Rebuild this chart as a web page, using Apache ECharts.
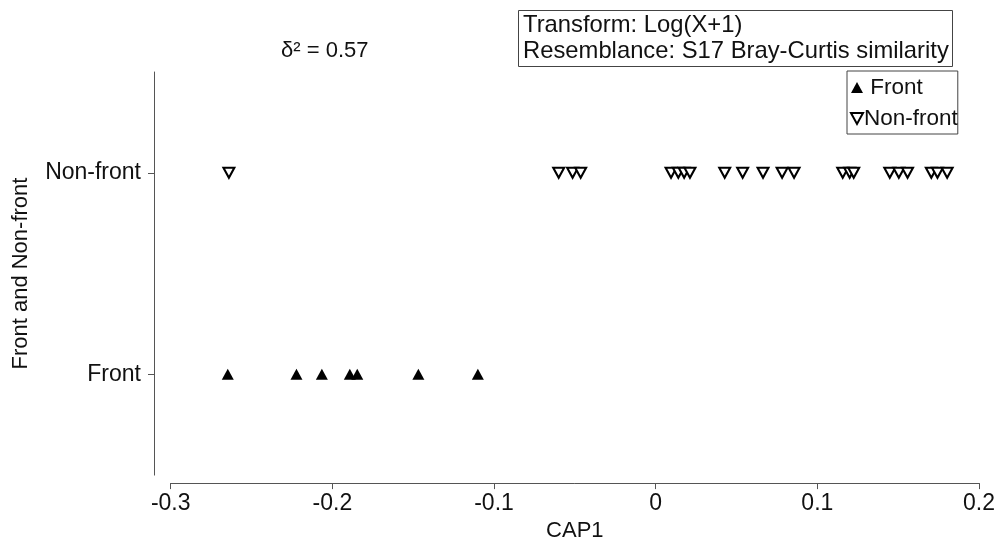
<!DOCTYPE html>
<html>
<head>
<meta charset="utf-8">
<script src="https://cdn.jsdelivr.net/npm/echarts@6/dist/echarts.min.js"></script>
<style>
html,body{margin:0;padding:0;background:#fff;}
#capChart{width:1002px;height:547px;}
</style>
</head>
<body>
<div id="capChart"></div>
<script>
// groups on the y axis
var groupNames = ['Front', 'Non-front'];
// CAP1 scores
var frontCap = [-0.2647, -0.2222, -0.2065, -0.1892, -0.1846, -0.1468, -0.1100];
var nonFrontCap = [-0.2640, -0.0600, -0.0514, -0.0464,
    0.0095, 0.0140, 0.0176, 0.0212,
    0.0427, 0.0538, 0.0664, 0.0782, 0.0856,
    0.1157, 0.1200, 0.1225,
    0.1448, 0.1504, 0.1558,
    0.1705, 0.1743, 0.1803];
var xTicks = [-0.3, -0.2, -0.1, 0, 0.1, 0.2];

var fontName = '"Liberation Sans", Arial, sans-serif';

function toPoints(vals, group){
    var out = [];
    for(var i=0; i<vals.length; i++){
        out.push([vals[i], group]);
    }
    return out;
}

var myChart = echarts.init(document.getElementById('capChart'));

var option = {
    backgroundColor: '#fff',
    textStyle: { fontFamily: fontName, color: '#111' },
    title: [{
        text: 'δ² = 0.57',
        left: 281,
        top: 40,
        padding: 0,
        textStyle: { fontFamily: fontName, fontSize: 22, fontWeight: 'normal', color: '#111' }
    }, {
        text: 'Transform: Log(X+1)\nResemblance: S17 Bray-Curtis similarity',
        left: 518,
        top: 10,
        padding: [2, 4, 3, 5],
        borderColor: '#444',
        borderWidth: 1,
        textStyle: { fontFamily: fontName, fontSize: 23.8, lineHeight: 26, fontWeight: 'normal', color: '#111' }
    }],
    legend: {
        orient: 'vertical',
        left: 847,
        top: 71,
        padding: [5, 0, 4, 3],
        itemGap: 8,
        itemWidth: 12,
        itemHeight: 11,
        borderColor: '#444',
        borderWidth: 1,
        data: [
            { name: 'Front', icon: 'triangle' },
            { name: 'Non-front', icon: 'path://M0,0 L10,0 L5,9 Z', itemStyle: { color: '#fff', borderColor: '#000', borderWidth: 2 } }
        ],
        formatter: function(name){
            return name == 'Front' ? ' Front' : name;
        },
        textStyle: { fontFamily: fontName, fontSize: 22.5, color: '#111', padding: [0, 0, 0, -4] }
    },
    grid: {
        left: 170.7,
        right: 23,
        top: 72,
        bottom: 69
    },
    xAxis: {
        type: 'value',
        min: xTicks[0],
        max: xTicks[xTicks.length - 1],
        interval: 0.1,
        offset: 8,
        name: 'CAP1',
        nameLocation: 'middle',
        nameGap: 35,
        nameTextStyle: { fontFamily: fontName, fontSize: 22, color: '#111' },
        axisLine: { show: true, onZero: false, lineStyle: { color: '#555', width: 1 } },
        axisTick: { show: true, length: 6, lineStyle: { color: '#555' } },
        axisLabel: {
            margin: 9,
            fontSize: 23,
            color: '#111',
            fontFamily: fontName,
            formatter: function(v){ return String(Math.round(v * 10) / 10); }
        },
        splitLine: { show: false }
    },
    yAxis: {
        type: 'category',
        data: groupNames,
        offset: 16.7,
        name: 'Front and Non-front',
        nameLocation: 'middle',
        nameRotate: 90,
        nameGap: 122,
        nameTextStyle: { fontFamily: fontName, fontSize: 22, color: '#111' },
        axisLine: { show: true, onZero: false, lineStyle: { color: '#555', width: 1 } },
        axisTick: { show: true, alignWithLabel: true, length: 6, lineStyle: { color: '#555' } },
        axisLabel: { margin: 13, fontSize: 23, color: '#111', fontFamily: fontName },
        splitLine: { show: false }
    },
    series: [{
        name: 'Front',
        type: 'scatter',
        symbol: 'triangle',
        symbolSize: [12, 11],
        itemStyle: { color: '#000', opacity: 1 },
        data: toPoints(frontCap, 'Front')
    }, {
        name: 'Non-front',
        type: 'scatter',
        symbol: 'triangle',
        symbolRotate: 180,
        symbolSize: [11, 10],
        itemStyle: { color: '#fff', borderColor: '#000', borderWidth: 2, opacity: 1 },
        data: toPoints(nonFrontCap, 'Non-front')
    }]
};
myChart.setOption(option, true);
</script>
</body>
</html>
